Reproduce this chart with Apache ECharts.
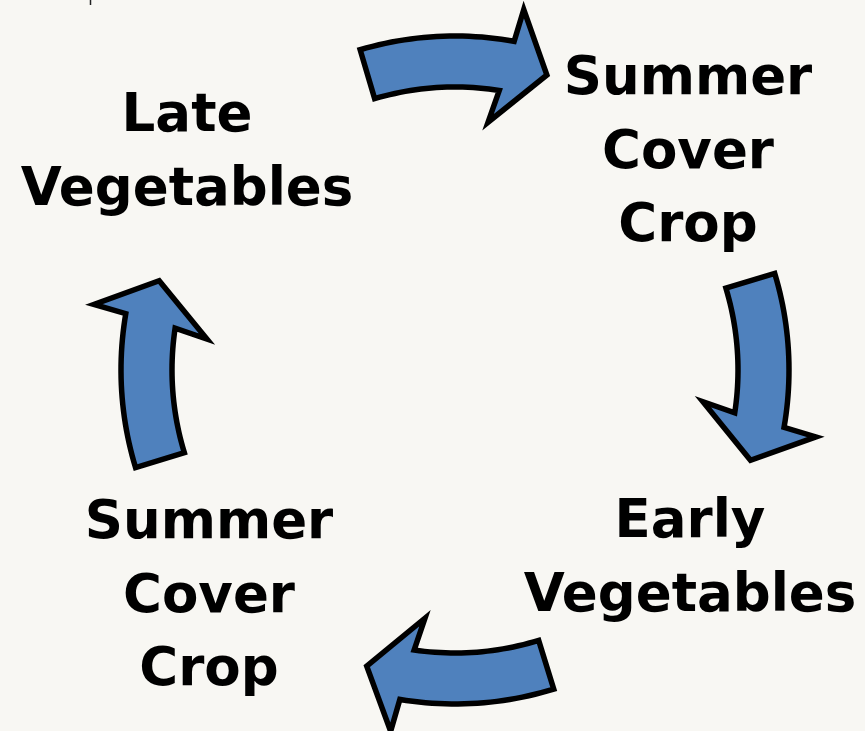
<!DOCTYPE html>
<html>
<head>
<meta charset="utf-8">
<script src="https://cdn.jsdelivr.net/npm/echarts@6/dist/echarts.min.js"></script>
<style>
  html, body { margin: 0; padding: 0; background: #f8f7f3; }
  #cycle-chart { width: 865px; height: 731px; }
</style>
</head>
<body>
<div id="cycle-chart"></div>
<script>
// stages of the rotation, placed on a hidden 865 x 731 value grid
const stageNames = ['Late\nVegetables', 'Summer\nCover\nCrop', 'Early\nVegetables', 'Summer\nCover\nCrop'];
const stageX = [187, 688, 690, 209];
const stageY = [154, 154, 560, 598];

// each curved arrow sits on the ring, given by its middle angle (deg, clockwise from top)
const arrowAngle = [0.5, 90.2, 179.8, 270];

// ring geometry for the block arrows
const ring = { cx: 455, cy: 370, rIn: 283, rOut: 334, barbIn: 250, barbOut: 367, tip: 309 };
const off = { start: -17, notchIn: 8.5, notchOut: 9.7, barbIn: 7.1, barbOut: 10.3, tip: 16.8 };

function polar(r, deg) {
    const a = deg * Math.PI / 180;
    return [ring.cx + r * Math.sin(a), ring.cy - r * Math.cos(a)];
}

function renderArrow(params, api) {
    const mid = api.value(0);
    const pts = [];
    const steps = 24;
    // outer edge, tail to head
    for (let i = 0; i <= steps; i++) {
        const d = mid + off.start + (off.notchOut - off.start) * i / steps;
        pts.push(polar(ring.rOut, d));
    }
    pts.push(polar(ring.barbOut, mid + off.barbOut));
    pts.push(polar(ring.tip, mid + off.tip));
    pts.push(polar(ring.barbIn, mid + off.barbIn));
    // inner edge, head back to tail
    for (let i = 0; i <= steps; i++) {
        const d = mid + off.notchIn + (off.start - off.notchIn) * i / steps;
        pts.push(polar(ring.rIn, d));
    }
    return {
        type: 'polygon',
        shape: { points: pts.map((p) => api.coord(p)) },
        style: { fill: '#4f81bd', stroke: '#000', lineWidth: 5.5, lineJoin: 'miter' }
    };
}

function renderStage(params, api) {
    const p = api.coord([api.value(0), api.value(1)]);
    return {
        type: 'text',
        x: p[0],
        y: p[1],
        style: {
            text: stageNames[params.dataIndex],
            fill: '#000',
            font: 'bold 53px "DejaVu Sans"',
            lineHeight: 73.5,
            align: 'center',
            verticalAlign: 'middle'
        }
    };
}

const chart = echarts.init(document.getElementById('cycle-chart'));
chart.setOption({
    backgroundColor: '#f8f7f3',
    animation: false,
    grid: { left: 0, right: 0, top: 0, bottom: 0 },
    xAxis: { type: 'value', min: 0, max: 865, show: false },
    yAxis: { type: 'value', min: 0, max: 731, inverse: true, show: false },
    graphic: [
        { type: 'line', shape: { x1: 90.5, y1: 0, x2: 90.5, y2: 5 }, style: { stroke: '#222', lineWidth: 1.5 } }
    ],
    series: [
        {
            type: 'custom',
            silent: true,
            renderItem: renderArrow,
            data: arrowAngle.map((a) => [a])
        },
        {
            type: 'custom',
            silent: true,
            renderItem: renderStage,
            data: stageX.map((x, i) => [x, stageY[i]])
        }
    ]
});
</script>
</body>
</html>
